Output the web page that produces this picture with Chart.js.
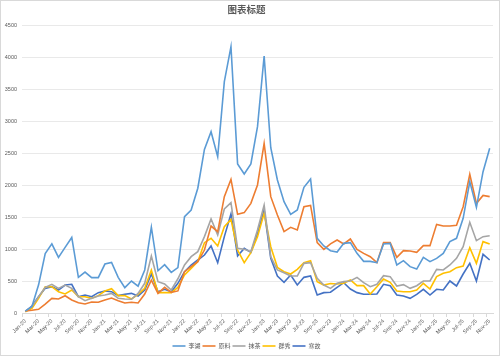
<!DOCTYPE html>
<html>
<head>
<meta charset="utf-8">
<script src="https://cdn.jsdelivr.net/npm/chart.js@4.4.1/dist/chart.umd.min.js"></script>
<style>
  html, body { margin: 0; padding: 0; background: #fff; }
  #wrap { width: 500px; height: 356px; }
</style>
</head>
<body>
<div id="wrap"><canvas id="chart" width="500" height="356"></canvas></div>
<script>
// Monthly categories, Jan-20 .. Nov-25
const months = [
  'Jan-20','Feb-20','Mar-20','Apr-20','May-20','Jun-20','Jul-20','Aug-20','Sep-20','Oct-20','Nov-20','Dec-20',
  'Jan-21','Feb-21','Mar-21','Apr-21','May-21','Jun-21','Jul-21','Aug-21','Sep-21','Oct-21','Nov-21','Dec-21',
  'Jan-22','Feb-22','Mar-22','Apr-22','May-22','Jun-22','Jul-22','Aug-22','Sep-22','Oct-22','Nov-22','Dec-22',
  'Jan-23','Feb-23','Mar-23','Apr-23','May-23','Jun-23','Jul-23','Aug-23','Sep-23','Oct-23','Nov-23','Dec-23',
  'Jan-24','Feb-24','Mar-24','Apr-24','May-24','Jun-24','Jul-24','Aug-24','Sep-24','Oct-24','Nov-24','Dec-24',
  'Jan-25','Feb-25','Mar-25','Apr-25','May-25','Jun-25','Jul-25','Aug-25','Sep-25','Oct-25','Nov-25'
];

const seriesNames = ['李湖', '原料', '抹茶', '群秀', '寒故'];

const liHu = [
  30, 100, 440, 930, 1080, 870, 1025, 1180, 557, 640, 552, 552,
  765, 790, 557, 396, 500, 420, 672, 1340, 660, 755, 635, 710,
  1505, 1610, 1950, 2557, 2833, 2443, 3614, 4161, 2328, 2172, 2328, 2911,
  4015, 2583, 2078, 1740, 1542, 1610, 1963, 2094, 1167, 1047, 974, 953,
  1088, 1099, 932, 807, 807, 786, 1078, 1088, 750, 818, 724, 687,
  870, 802, 854, 932, 1115, 1167, 1479, 2052, 1651, 2208, 2573
];
const yuanLiao = [
  30, 42, 57, 140, 229, 219, 270, 203, 161, 140, 172, 167,
  203, 234, 193, 156, 167, 156, 297, 515, 307, 401, 323, 345,
  646, 724, 802, 984, 1359, 1271, 1818, 2088, 1542, 1568, 1713, 2000,
  2651, 1818, 1531, 1271, 1338, 1297, 1661, 1682, 1099, 995, 1080, 1141,
  1078, 1156, 995, 932, 880, 786, 1099, 1099, 870, 974, 969, 948,
  1052, 1052, 1385, 1359, 1359, 1370, 1661, 2166, 1713, 1838, 1818
];
const moCha = [
  30, 99, 255, 401, 448, 385, 437, 385, 255, 193, 229, 266,
  281, 307, 229, 219, 214, 307, 464, 891, 490, 453, 359, 535,
  750, 880, 958, 1193, 1469, 1219, 1625, 1724, 1010, 995, 958, 1297,
  1687, 880, 672, 630, 578, 578, 776, 786, 542, 437, 385, 464,
  490, 500, 557, 474, 411, 448, 583, 568, 422, 443, 385, 427,
  500, 500, 682, 672, 750, 854, 1036, 1417, 1130, 1193, 1208
];
const qunXiu = [
  20, 73, 229, 411, 411, 333, 297, 359, 255, 255, 229, 271,
  344, 380, 271, 271, 219, 292, 385, 672, 318, 318, 318, 400,
  594, 698, 802, 1099, 1167, 1047, 1349, 1463, 984, 786, 943, 1193,
  1557, 1036, 713, 646, 609, 682, 786, 818, 490, 437, 460, 453,
  464, 516, 427, 427, 297, 411, 531, 479, 344, 333, 333, 359,
  464, 375, 568, 620, 646, 708, 734, 1021, 776, 1115, 1078
];
const hanGu = [
  25, 109, 255, 385, 411, 359, 437, 448, 255, 281, 255, 318,
  344, 333, 271, 292, 307, 266, 359, 609, 333, 370, 333, 464,
  646, 750, 828, 906, 1047, 786, 1193, 1547, 891, 1010, 948, 1234,
  1609, 854, 578, 479, 594, 437, 557, 578, 281, 318, 325, 401,
  474, 375, 318, 292, 292, 297, 448, 427, 281, 266, 229, 292,
  370, 281, 370, 359, 500, 422, 609, 776, 500, 917, 828
];

const colors = ['#5B9BD5', '#ED7D31', '#A5A5A5', '#FFC000', '#4472C4'];
const allSeries = [liHu, yuanLiao, moCha, qunXiu, hanGu];

const FONT = '"Liberation Sans", "Noto Sans CJK SC", sans-serif';
const TEXT_GREY = '#595959';

// white background + thin chart border like the Excel chart area
const chartFrame = {
  id: 'chartFrame',
  beforeDraw(chart) {
    const ctx = chart.ctx;
    ctx.save();
    ctx.fillStyle = '#fff';
    ctx.fillRect(0, 0, chart.width, chart.height);
    ctx.strokeStyle = '#d9d9d9';
    ctx.lineWidth = 1;
    ctx.strokeRect(0.5, 0.5, chart.width - 1, chart.height - 1);
    ctx.restore();
  }
};

const ctx = document.getElementById('chart').getContext('2d');
new Chart(ctx, {
  type: 'line',
  data: {
    labels: months,
    datasets: allSeries.map((vals, i) => ({
      label: seriesNames[i],
      data: vals,
      borderColor: colors[i],
      backgroundColor: colors[i],
      borderWidth: 1.6,
      pointRadius: 0,
      tension: 0,
      fill: false
    }))
  },
  options: {
    responsive: false,
    animation: false,
    layout: { padding: { left: 0, right: 7, top: 0, bottom: -3 } },
    plugins: {
      title: {
        display: true,
        text: '图表标题',
        color: TEXT_GREY,
        font: { family: FONT, size: 9.5, weight: 'bold' },
        padding: { top: 5, bottom: 8.6 }
      },
      legend: {
        position: 'bottom',
        labels: {
          usePointStyle: true,
          pointStyle: 'line',
          pointStyleWidth: 13,
          boxHeight: 6,
          padding: 2,
          color: TEXT_GREY,
          font: { family: FONT, size: 6 }
        }
      },
      tooltip: { enabled: false }
    },
    scales: {
      x: {
        offset: true,
        afterFit: function(scale) { scale.height = 28; },
        grid: {
          offset: true,
          drawOnChartArea: false,
          drawTicks: true,
          tickLength: 4,
          tickColor: function(c) { return c.index % 2 === 0 ? '#d9d9d9' : 'rgba(0,0,0,0)'; }
        },
        border: { display: true, color: '#d9d9d9' },
        ticks: {
          autoSkip: false,
          maxRotation: 45,
          minRotation: 45,
          padding: 1,
          color: TEXT_GREY,
          font: { family: FONT, size: 5.5 },
          callback: function(val, idx) {
            return idx % 2 === 0 ? this.getLabelForValue(val) : '';
          }
        }
      },
      y: {
        min: 0,
        max: 4500,
        afterFit: function(scale) { scale.width = 22; },
        grid: { color: '#e9e9e9', drawTicks: false },
        border: { display: false },
        ticks: {
          stepSize: 500,
          padding: 5,
          color: TEXT_GREY,
          font: { family: FONT, size: 5.5 },
          callback: function(v) { return String(v); }
        }
      }
    }
  },
  plugins: [chartFrame]
});
</script>
</body>
</html>
